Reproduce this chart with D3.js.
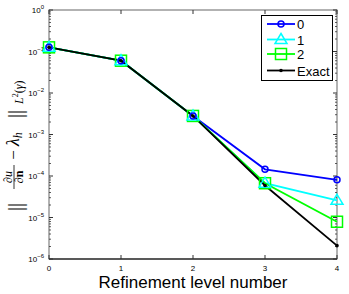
<!DOCTYPE html>
<html><head><meta charset="utf-8">
<script src="https://cdn.jsdelivr.net/npm/d3@7"></script>
<style>body{margin:0;background:#fff}svg{display:block}</style>
</head><body><svg id="c" width="349" height="294"></svg>
<script>
const levels = [0, 1, 2, 3, 4];
const series0 = [0.126, 0.060, 0.0028, 1.45e-4, 8.1e-5];
const series1 = [0.126, 0.060, 0.0028, 6.7e-5, 2.6e-5];
const series2 = [0.126, 0.060, 0.0028, 6.7e-5, 7.9e-6];
const exact   = [0.126, 0.060, 0.0028, 5.9e-5, 2.1e-6];
const seriesNames = ["0", "1", "2", "Exact"];
const yTickExps = [0, -1, -2, -3, -4, -5, -6];

const svg = d3.select("#c");
const L = 49, R = 337, T = 10, B = 259;
const x = d3.scaleLinear().domain([0, 4]).range([L, R]);
const y = d3.scaleLog().domain([1e-6, 1]).range([B, T]);
const font = "Liberation Sans, Arial, sans-serif";

// box
svg.append("rect").attr("x", L).attr("y", T).attr("width", R - L).attr("height", B - T)
  .attr("fill", "#fff").attr("stroke", "#666").attr("stroke-width", 1);
svg.append("line").attr("x1", L).attr("x2", R).attr("y1", B).attr("y2", B).attr("stroke", "#000").attr("stroke-width", 1.2);

// minor y ticks
const g = svg.append("g");
for (let e = -6; e < 0; e++) {
  for (let m = 2; m <= 9; m++) {
    const yy = y(m * Math.pow(10, e));
    g.append("line").attr("x1", L).attr("x2", L + 2).attr("y1", yy).attr("y2", yy).attr("stroke", "#333").attr("stroke-width", 0.8);
    g.append("line").attr("x1", R).attr("x2", R - 2).attr("y1", yy).attr("y2", yy).attr("stroke", "#333").attr("stroke-width", 0.8);
  }
}
// major y ticks
yTickExps.forEach(e => {
  const yy = y(Math.pow(10, e));
  g.append("line").attr("x1", L).attr("x2", L + 4).attr("y1", yy).attr("y2", yy).attr("stroke", "#333");
  g.append("line").attr("x1", R).attr("x2", R - 4).attr("y1", yy).attr("y2", yy).attr("stroke", "#333");
  const t = svg.append("text").attr("x", L - 5).attr("y", yy + 3).attr("text-anchor", "end")
    .attr("font-family", font).attr("font-size", 8).attr("fill", "#000");
  t.append("tspan").text("10");
  t.append("tspan").attr("dy", -4).attr("font-size", 6).text(e === 0 ? "0" : "\u2212" + (-e));
});
// x ticks
levels.forEach(v => {
  const xx = x(v);
  g.append("line").attr("x1", xx).attr("x2", xx).attr("y1", B).attr("y2", B - 4).attr("stroke", "#333");
  g.append("line").attr("x1", xx).attr("x2", xx).attr("y1", T).attr("y2", T + 4).attr("stroke", "#333");
  svg.append("text").attr("x", xx).attr("y", B + 12).attr("text-anchor", "middle")
    .attr("font-family", font).attr("font-size", 8).text(v);
});

// axis title
svg.append("text").attr("x", 193).attr("y", 288).attr("text-anchor", "middle")
  .attr("font-family", font).attr("font-size", 17).text("Refinement level number");

// y label (rotated math)
const yl = svg.append("g").attr("transform", "translate(22,145) rotate(-90)")
  .attr("font-family", "Liberation Serif, DejaVu Serif, serif").attr("fill", "#000");
yl.append("text").attr("x", -66).attr("y", 0).attr("font-size", 20).text("||");
yl.append("text").attr("x", -32).attr("y", -10).attr("text-anchor", "middle").attr("font-size", 12).attr("font-style", "italic").text("\u2202u");
yl.append("line").attr("x1", -44).attr("x2", -20).attr("y1", -8).attr("y2", -8).attr("stroke", "#000").attr("stroke-width", 0.8);
yl.append("text").attr("x", -32).attr("y", 1).attr("text-anchor", "middle").attr("font-size", 12).attr("font-weight", "bold").text("\u2202n");
yl.append("text").attr("x", -10).attr("y", -3).attr("text-anchor", "middle").attr("font-size", 17).text("\u2212");
const lam = yl.append("text").attr("x", -1).attr("y", -3).attr("font-size", 18).attr("font-style", "italic");
lam.append("tspan").text("\u03bb");
lam.append("tspan").attr("font-size", 12).attr("dy", 3).text("h");
yl.append("text").attr("x", 27).attr("y", 0).attr("font-size", 20).text("||");
const sub = yl.append("text").attr("x", 41).attr("y", 1).attr("font-size", 12);
sub.append("tspan").attr("font-style", "italic").text("L");
sub.append("tspan").attr("dy", -5).attr("font-size", 8).text("2");
sub.append("tspan").attr("dy", 5).text("(");
sub.append("tspan").attr("font-style", "italic").text("\u03b3");
sub.append("tspan").text(")");

// data
const data = [series0, series1, series2, exact];
const colors = ["#0000ff", "#00ffff", "#00ff00", "#000000"];
const line = d3.line().x((d, i) => x(levels[i])).y(d => y(d));
const plot = svg.append("g");
function marker(sel, k, cx, cy) {
  if (k === 0) sel.append("circle").attr("cx", cx).attr("cy", cy).attr("r", 3).attr("fill", "none").attr("stroke", colors[0]).attr("stroke-width", 1.5);
  if (k === 1) sel.append("path").attr("d", `M${cx},${cy - 6}L${cx + 6},${cy + 4}L${cx - 6},${cy + 4}Z`).attr("fill", "none").attr("stroke", colors[1]).attr("stroke-width", 1.5);
  if (k === 2) sel.append("rect").attr("x", cx - 5.5).attr("y", cy - 5.5).attr("width", 11).attr("height", 11).attr("fill", "none").attr("stroke", colors[2]).attr("stroke-width", 1.5);
  if (k === 3) sel.append("circle").attr("cx", cx).attr("cy", cy).attr("r", 1.8).attr("fill", colors[3]);
}
data.forEach((s, k) => {
  plot.append("path").attr("d", line(s)).attr("fill", "none").attr("stroke", colors[k]).attr("stroke-width", 1.8);
});
[2, 1, 0, 3].forEach(k => {
  data[k].forEach((d, i) => marker(plot, k, x(levels[i]), y(d)));
});

// legend
const lg = svg.append("g");
lg.append("rect").attr("x", 261.5).attr("y", 15.5).attr("width", 71).attr("height", 65).attr("fill", "#fff").attr("stroke", "#000").attr("stroke-width", 1);
const ly = [24, 39.5, 54, 70.5];
seriesNames.forEach((n, k) => {
  lg.append("line").attr("x1", 267).attr("x2", 295).attr("y1", ly[k]).attr("y2", ly[k]).attr("stroke", colors[k]).attr("stroke-width", 1.8);
  marker(lg, k, 281, ly[k]);
  lg.append("text").attr("x", 297).attr("y", ly[k] + 5).attr("font-family", font).attr("font-size", 13).text(n);
});
</script></body></html>
